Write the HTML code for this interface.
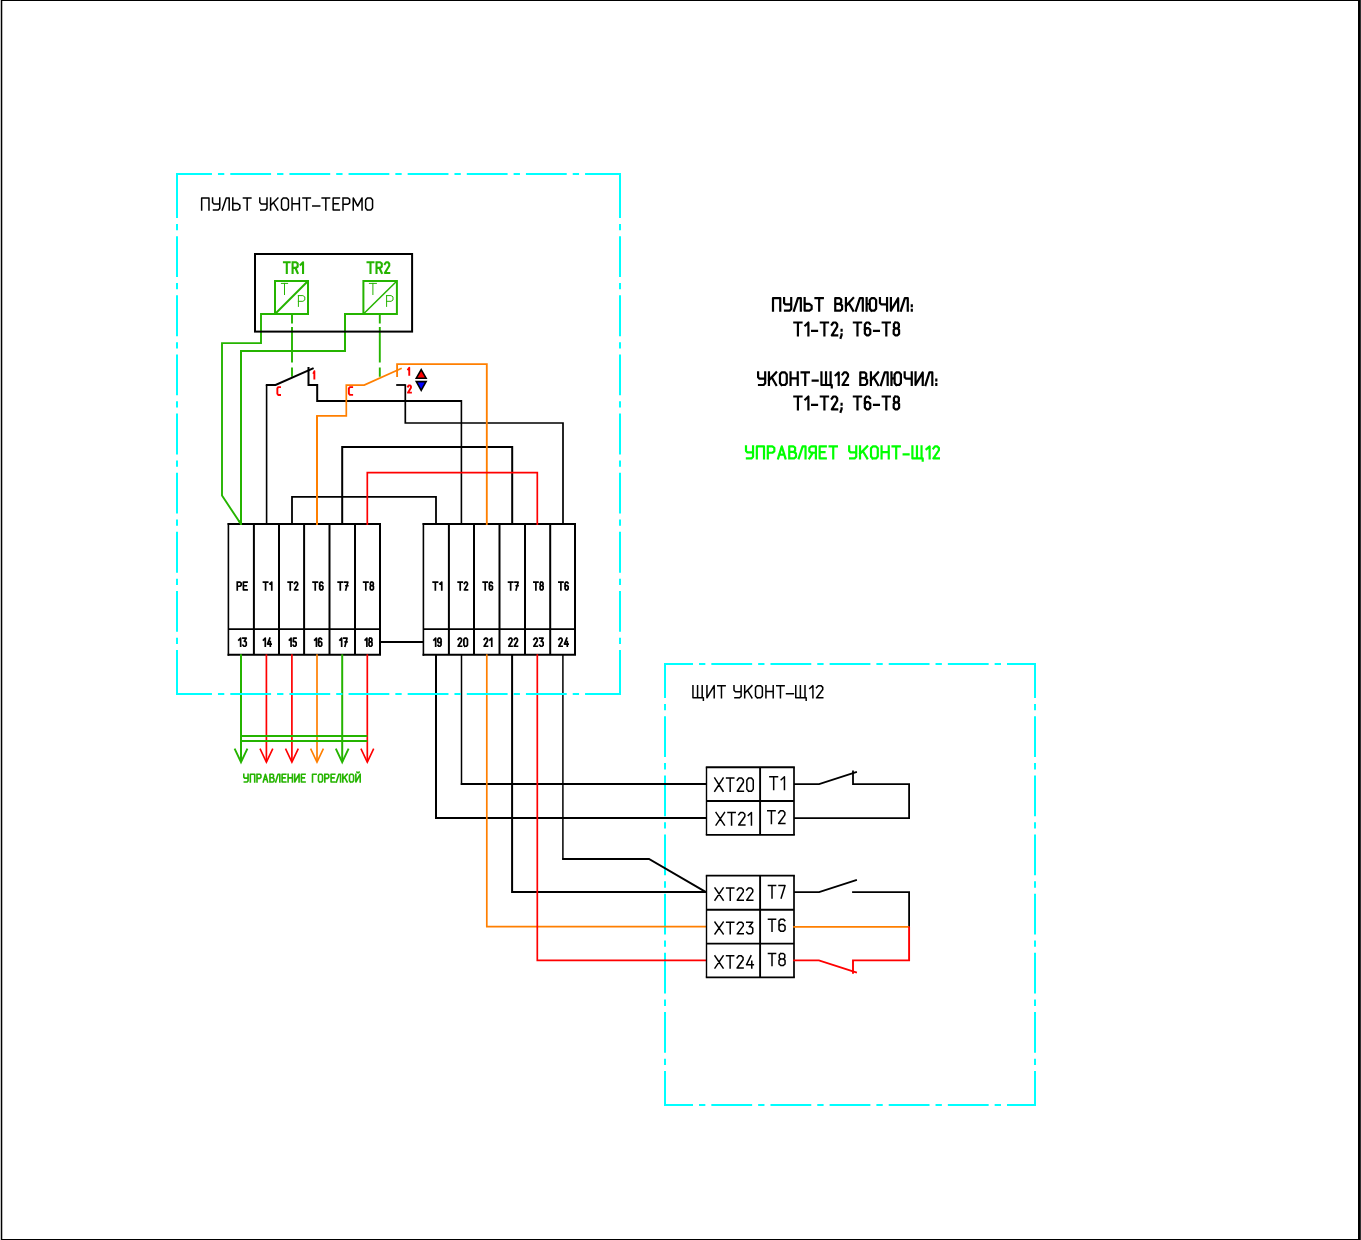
<!DOCTYPE html>
<html lang="ru">
<head>
<meta charset="utf-8">
<title>УКОНТ-ТЕРМО / УКОНТ-Щ12</title>
<style>
html,body{margin:0;padding:0;background:#fff;}
body{width:1361px;height:1240px;overflow:hidden;position:relative;font-family:"Liberation Sans",sans-serif;}
svg{position:absolute;left:0;top:0;display:block;}
svg text.t{font-family:"Liberation Sans",sans-serif;fill:#000;fill-opacity:0;stroke:none;}
.frame{position:absolute;background:#000;}
</style>
</head>
<body>
<div class="frame" style="left:0;top:0;width:1361px;height:1px"></div>
<div class="frame" style="left:0;top:1239px;width:1361px;height:1px"></div>
<div class="frame" style="left:0;top:0;width:1px;height:1240px;background:#c3c3c3"></div>
<div class="frame" style="left:1px;top:0;width:1px;height:1240px"></div>
<div class="frame" style="left:2px;top:1px;width:1px;height:1238px;background:#b9b9b9"></div>
<div class="frame" style="left:1358px;top:0;width:2px;height:1240px"></div>
<div class="frame" style="left:1360px;top:0;width:1px;height:1240px;background:#333"></div>
<svg width="1361" height="1240" viewBox="0 0 1361 1240">
<g fill="none">
<path d="M664 664 L1036 664" stroke="#00ffff" stroke-width="2" stroke-dasharray="29.01 6 6.33 6 40.8 6 6.33 6 40.8 6 6.33 6 40.8 6 6.33 6 40.8 6 6.33 6 40.8 6 6.33 6 30.01 100"/>
<path d="M664 1105 L1036 1105" stroke="#00ffff" stroke-width="2" stroke-dasharray="29.01 6 6.33 6 40.8 6 6.33 6 40.8 6 6.33 6 40.8 6 6.33 6 40.8 6 6.33 6 40.8 6 6.33 6 30.01 100"/>
<path d="M665 663 L665 1106" stroke="#00ffff" stroke-width="2" stroke-dasharray="34.95 6 6.33 6 40.8 6 6.33 6 40.8 6 6.33 6 40.8 6 6.33 6 40.8 6 6.33 6 40.8 6 6.33 6 40.8 6 6.33 6 35.95 100"/>
<path d="M1035 663 L1035 1106" stroke="#00ffff" stroke-width="2" stroke-dasharray="34.95 6 6.33 6 40.8 6 6.33 6 40.8 6 6.33 6 40.8 6 6.33 6 40.8 6 6.33 6 40.8 6 6.33 6 40.8 6 6.33 6 35.95 100"/>
<path d="M275 314 L261 314 L261 343.1 L222 343.1 L222 495.5 L241.2 524.6" stroke="#25b400" stroke-width="1.9"/>
<path d="M363.4 314 L345 314 L345 351 L241 351 L241 525" stroke="#25b400" stroke-width="2"/>
<rect x="275" y="281" width="33" height="33" stroke="#25b400" stroke-width="2"/>
<path d="M275 314 L308 281" stroke="#25b400" stroke-width="2"/>
<rect x="363.4" y="281" width="33.5" height="33" stroke="#25b400" stroke-width="2"/>
<path d="M363.4 314 L396.9 281" stroke="#25b400" stroke-width="1.5"/>
<path d="M292 314V376.7" stroke="#25b400" stroke-width="1.9" stroke-dasharray="9.5 3.4 35.7 5 9.4 50"/>
<path d="M379.8 314V376.7" stroke="#25b400" stroke-width="1.9" stroke-dasharray="9.5 3.4 35.7 5 9.4 50"/>
<rect x="255" y="254" width="157.1" height="77.6" stroke="#000" stroke-width="2"/>
<path d="M266.6 524 L266.6 385" stroke="#000" stroke-width="1.6"/>
<path d="M265.8 385 L275.6 385 L313.6 368.1" stroke="#000" stroke-width="2"/>
<path d="M308.5 367 L308.5 385 L317.2 385 L317.2 401 L461.4 401" stroke="#000" stroke-width="2"/>
<path d="M461.4 400 L461.4 524" stroke="#000" stroke-width="1.6"/>
<path d="M396.2 385 L405.3 385" stroke="#000" stroke-width="1.8"/>
<path d="M405.3 384.2 L405.3 423 L563 423 L563 524" stroke="#000" stroke-width="1.7"/>
<path d="M342.2 524 L342.2 447 L512.2 447 L512.2 524" stroke="#000" stroke-width="2"/>
<path d="M292 524 L292 496.8 L436 496.8 L436 524" stroke="#000" stroke-width="1.8"/>
<path d="M228.4 655.8 L228.4 523" stroke="#000" stroke-width="1.6"/>
<path d="M227.6 524 L380 524 L380 654.8 L227.6 654.8" stroke="#000" stroke-width="2"/>
<path d="M253.9 524 L253.9 654.8" stroke="#000" stroke-width="2"/>
<path d="M279 524 L279 654.8" stroke="#000" stroke-width="2"/>
<path d="M304.1 524 L304.1 654.8" stroke="#000" stroke-width="2"/>
<path d="M329.5 524 L329.5 654.8" stroke="#000" stroke-width="2"/>
<path d="M355 524 L355 654.8" stroke="#000" stroke-width="2"/>
<path d="M228.5 629.2 L380 629.2" stroke="#000" stroke-width="1.7"/>
<path d="M423.4 655.8 L423.4 523" stroke="#000" stroke-width="1.6"/>
<path d="M422.6 524 L575 524 L575 654.8 L422.6 654.8" stroke="#000" stroke-width="2"/>
<path d="M448.9 524 L448.9 654.8" stroke="#000" stroke-width="2"/>
<path d="M474 524 L474 654.8" stroke="#000" stroke-width="2"/>
<path d="M499.5 524 L499.5 654.8" stroke="#000" stroke-width="2"/>
<path d="M525 524 L525 654.8" stroke="#000" stroke-width="2"/>
<path d="M550.2 524 L550.2 654.8" stroke="#000" stroke-width="2"/>
<path d="M423.5 629.2 L575 629.2" stroke="#000" stroke-width="1.7"/>
<path d="M380 642 L423.5 642" stroke="#000" stroke-width="2"/>
<path d="M238.6 520.6 L241.2 524.6" stroke="#25b400" stroke-width="1.9"/>
<path d="M241 520 L241 525" stroke="#25b400" stroke-width="2"/>
<path d="M317 525 L317 415.7" stroke="#ff7f00" stroke-width="2"/>
<path d="M316.1 415.8 L346.3 415.8 L346.3 385.1 L364.2 385.1 L401.7 368.2" stroke="#ff7f00" stroke-width="1.7"/>
<path d="M397.1 377 L397.1 364.1 L486.8 364.1 L486.8 525" stroke="#ff7f00" stroke-width="1.85"/>
<path d="M367.3 525 L367.3 472.6 L537.3 472.6 L537.3 525" stroke="#ff0000" stroke-width="1.7"/>
<path d="M421.2 369.6L426.1 378.2H416.3Z" fill="#ff0000" stroke="#000" stroke-width="1.6" stroke-linejoin="miter"/>
<path d="M421.2 390.4L426.1 381.6H416.3Z" fill="#0000ff" stroke="#000" stroke-width="1.6" stroke-linejoin="miter"/>
<path d="M241 654.3 L241 761.5" stroke="#25b400" stroke-width="2"/>
<path d="M234.6 748.7 L241 762.2 L247.4 748.7" stroke="#25b400" stroke-width="1.9" stroke-linejoin="miter"/>
<path d="M266.4 654.3 L266.4 761.5" stroke="#ff0000" stroke-width="1.7"/>
<path d="M260 748.7 L266.4 762.2 L272.8 748.7" stroke="#ff0000" stroke-width="1.6" stroke-linejoin="miter"/>
<path d="M291.9 654.3 L291.9 761.5" stroke="#ff0000" stroke-width="1.7"/>
<path d="M285.5 748.7 L291.9 762.2 L298.3 748.7" stroke="#ff0000" stroke-width="1.6" stroke-linejoin="miter"/>
<path d="M317 654.3 L317 761.5" stroke="#ff7f00" stroke-width="1.7"/>
<path d="M310.6 748.7 L317 762.2 L323.4 748.7" stroke="#ff7f00" stroke-width="1.6" stroke-linejoin="miter"/>
<path d="M342.2 654.3 L342.2 761.5" stroke="#25b400" stroke-width="2"/>
<path d="M335.8 748.7 L342.2 762.2 L348.6 748.7" stroke="#25b400" stroke-width="1.9" stroke-linejoin="miter"/>
<path d="M367.3 654.3 L367.3 761.5" stroke="#ff0000" stroke-width="1.7"/>
<path d="M360.9 748.7 L367.3 762.2 L373.7 748.7" stroke="#ff0000" stroke-width="1.6" stroke-linejoin="miter"/>
<path d="M241 736 L367.3 736" stroke="#25b400" stroke-width="2"/>
<path d="M241 741 L367.3 741" stroke="#25b400" stroke-width="2"/>
<path d="M436 654.8 L436 817.9 L706 817.9" stroke="#000" stroke-width="2"/>
<path d="M461.5 654.8 L461.5 785" stroke="#000" stroke-width="1.5"/>
<path d="M460.8 784 L706 784" stroke="#000" stroke-width="2"/>
<path d="M512.1 654.8 L512.1 892.1 L706 892.1" stroke="#000" stroke-width="2"/>
<path d="M562.9 654.8 L562.9 859.8" stroke="#000" stroke-width="1.5"/>
<path d="M562.2 859 L649 859 L706 892.1" stroke="#000" stroke-width="2"/>
<path d="M486.8 654.3 L486.8 926.6 L706 926.6" stroke="#ff7f00" stroke-width="1.7"/>
<path d="M537.3 654.3 L537.3 960.4 L706 960.4" stroke="#ff0000" stroke-width="1.7"/>
<path d="M706.5 834.9 L706.5 767.2" stroke="#000" stroke-width="1.4"/>
<path d="M794 834.9 L794 767.2" stroke="#000" stroke-width="1.7"/>
<path d="M705.8 767.2 L794.85 767.2" stroke="#000" stroke-width="1.9"/>
<path d="M705.8 834.9 L794.85 834.9" stroke="#000" stroke-width="1.8"/>
<path d="M760.1 767.2 L760.1 834.9" stroke="#000" stroke-width="1.9"/>
<path d="M706.5 801 L794 801" stroke="#000" stroke-width="1.9"/>
<path d="M706.5 977.4 L706.5 875.6" stroke="#000" stroke-width="1.4"/>
<path d="M794 977.4 L794 875.6" stroke="#000" stroke-width="1.7"/>
<path d="M705.8 875.6 L794.85 875.6" stroke="#000" stroke-width="1.9"/>
<path d="M705.8 977.4 L794.85 977.4" stroke="#000" stroke-width="1.8"/>
<path d="M760.1 875.6 L760.1 977.4" stroke="#000" stroke-width="1.9"/>
<path d="M706.5 909.7 L794 909.7" stroke="#000" stroke-width="1.9"/>
<path d="M706.5 943.6 L794 943.6" stroke="#000" stroke-width="1.9"/>
<path d="M794 784.1 L819.1 784.1 L856.9 771.9" stroke="#000" stroke-width="1.8"/>
<path d="M853 770.6 L853 784.1 L909.1 784.1 L909.1 818.1 L794 818.1" stroke="#000" stroke-width="1.8"/>
<path d="M794 892.2 L819.1 892.2 L856.9 879.9" stroke="#000" stroke-width="1.8"/>
<path d="M852.1 892.2 L909.1 892.2 L909.1 927" stroke="#000" stroke-width="1.8"/>
<path d="M793.2 926.8 L909.2 926.8" stroke="#ff7f00" stroke-width="1.7"/>
<path d="M909.1 926.5 L909.1 960.4 L853 960.4 L853 973.8" stroke="#ff0000" stroke-width="1.9"/>
<path d="M793.2 960.4 L818.9 960.4 L856.9 972.7" stroke="#ff0000" stroke-width="1.9"/>
<path d="M201.65 210.05L201.65 197.95L208.97 197.95L208.97 210.05 M212.56 197.95L212.56 202.55L214.03 204L219.75 204 M219.75 197.95L219.75 208.36L218.15 210.05L213.50 210.05 M222.28 210.05L226.27 197.95L229.20 197.95L229.20 210.05 M232.80 197.95L232.80 210.05L237.59 210.05L239.85 208.48L239.85 205.09L237.59 203.52L232.80 203.52 M243.44 197.95L250.90 197.95 M247.17 197.95L247.17 210.05 M259.81 197.95L259.81 202.55L261.28 204L267 204 M267 197.95L267 208.36L265.40 210.05L260.75 210.05 M270.60 210.05L270.60 197.95 M277.92 197.95L270.60 205.45 M273.39 202.55L277.92 210.05 M283.24 210.05L281.51 208.11L281.51 199.89L283.24 197.95L286.70 197.95L288.43 199.89L288.43 208.11L286.70 210.05L283.24 210.05 M292.02 210.05L292.02 197.95 M299.35 210.05L299.35 197.95 M292.02 203.64L299.35 203.64 M302.94 197.95L310.39 197.95 M306.67 197.95L306.67 210.05 M312.79 205.94L319.71 205.94 M322.11 197.95L329.56 197.95 M325.83 197.95L325.83 210.05 M339.41 197.95L333.15 197.95L333.15 210.05L339.41 210.05 M333.15 203.64L338.08 203.64 M343 210.05L343 197.95 M343 197.95L347.66 197.95L349.66 199.40L349.66 202.91L347.66 204.36L343 204.36 M353.25 210.05L353.25 197.95L357.64 206.18L362.04 197.95L362.04 210.05 M367.36 210.05L365.63 208.11L365.63 199.89L367.36 197.95L370.82 197.95L372.55 199.89L372.55 208.11L370.82 210.05L367.36 210.05" stroke="#000" stroke-width="1.5" stroke-linecap="square" stroke-linejoin="round"/>
<text x="200.9" y="210.8" font-size="18.7" textLength="172.4" lengthAdjust="spacingAndGlyphs" class="t">ПУЛЬТ УКОНТ-ТЕРМО</text>
<path d="M283.95 262.25L289.64 262.25 M286.79 262.25L286.79 272.95 M292.59 272.95L292.59 262.25 M292.59 262.25L296.14 262.25L297.67 263.53L297.67 266.64L296.14 267.92L292.59 267.92 M295.43 267.92L297.67 272.95 M300.61 264.71L303.05 262.25L303.05 272.95" stroke="#25b400" stroke-width="2.1" stroke-linecap="square" stroke-linejoin="round"/>
<text x="282.9" y="274" font-size="17.6" textLength="21.2" lengthAdjust="spacingAndGlyphs" class="t">TR1</text>
<path d="M367.55 262.25L373.45 262.25 M370.50 262.25L370.50 272.95 M376.50 272.95L376.50 262.25 M376.50 262.25L380.19 262.25L381.77 263.53L381.77 266.64L380.19 267.92L376.50 267.92 M379.45 267.92L381.77 272.95 M384.83 264.07L386.09 262.25L387.99 262.25L389.25 263.75L389.25 265.67L384.83 272.95L389.25 272.95" stroke="#25b400" stroke-width="2.1" stroke-linecap="square" stroke-linejoin="round"/>
<text x="366.5" y="274" font-size="17.6" textLength="23.8" lengthAdjust="spacingAndGlyphs" class="t">TR2</text>
<path d="M281.40 283.40L287.60 283.40 M284.50 283.40L284.50 294.50" stroke="#25b400" stroke-width="1" stroke-linecap="square" stroke-linejoin="round"/>
<text x="280.9" y="295" font-size="16.6" textLength="7.2" lengthAdjust="spacingAndGlyphs" class="t">T</text>
<path d="M298.40 306.40L298.40 295.60 M298.40 295.60L302.88 295.60L304.80 296.90L304.80 300.03L302.88 301.32L298.40 301.32" stroke="#25b400" stroke-width="1" stroke-linecap="square" stroke-linejoin="round"/>
<text x="297.9" y="306.9" font-size="16.2" textLength="7.4" lengthAdjust="spacingAndGlyphs" class="t">P</text>
<path d="M369.40 283.40L376.40 283.40 M372.90 283.40L372.90 294.50" stroke="#25b400" stroke-width="1" stroke-linecap="square" stroke-linejoin="round"/>
<text x="368.9" y="295" font-size="16.6" textLength="8" lengthAdjust="spacingAndGlyphs" class="t">T</text>
<path d="M386.60 306.40L386.60 295.60 M386.60 295.60L391.08 295.60L393 296.90L393 300.03L391.08 301.32L386.60 301.32" stroke="#25b400" stroke-width="1" stroke-linecap="square" stroke-linejoin="round"/>
<text x="386.1" y="306.9" font-size="16.2" textLength="7.4" lengthAdjust="spacingAndGlyphs" class="t">P</text>
<path d="M280.05 387.15L278.23 387.15L277.35 388.41L277.35 393.79L278.23 395.05L280.05 395.05" stroke="#ff0000" stroke-width="1.9" stroke-linecap="square" stroke-linejoin="round"/>
<text x="276.4" y="396" font-size="13.4" textLength="4.6" lengthAdjust="spacingAndGlyphs" class="t">C</text>
<path d="M313.65 372.95L314.35 371.25L314.35 378.65" stroke="#ff0000" stroke-width="1.9" stroke-linecap="square" stroke-linejoin="round"/>
<text x="312.7" y="379.6" font-size="12.8" textLength="2.6" lengthAdjust="spacingAndGlyphs" class="t">1</text>
<path d="M352.15 387.15L349.93 387.15L348.85 388.38L348.85 393.62L349.93 394.85L352.15 394.85" stroke="#ff0000" stroke-width="1.9" stroke-linecap="square" stroke-linejoin="round"/>
<text x="347.9" y="395.8" font-size="13.2" textLength="5.2" lengthAdjust="spacingAndGlyphs" class="t">C</text>
<path d="M408.15 369.38L409.25 367.75L409.25 374.85" stroke="#ff0000" stroke-width="1.9" stroke-linecap="square" stroke-linejoin="round"/>
<text x="407.2" y="375.8" font-size="12.3" textLength="3" lengthAdjust="spacingAndGlyphs" class="t">1</text>
<path d="M407.95 386.59L408.81 385.35L410.09 385.35L410.95 386.37L410.95 387.69L407.95 392.65L410.95 392.65" stroke="#ff0000" stroke-width="1.9" stroke-linecap="square" stroke-linejoin="round"/>
<text x="407" y="393.6" font-size="12.6" textLength="4.9" lengthAdjust="spacingAndGlyphs" class="t">2</text>
<path d="M237.25 589.85L237.25 582.15 M237.25 582.15L239.97 582.15L241.14 583.07L241.14 585.31L239.97 586.23L237.25 586.23 M247.05 582.15L243.39 582.15L243.39 589.85L247.05 589.85 M243.39 585.77L246.27 585.77" stroke="#000" stroke-width="1.7" stroke-linecap="square" stroke-linejoin="round"/>
<text x="236.4" y="590.7" font-size="12.9" textLength="11.5" lengthAdjust="spacingAndGlyphs" class="t">PE</text>
<path d="M263.45 582.15L267.71 582.15 M265.58 582.15L265.58 589.85 M269.92 583.92L271.75 582.15L271.75 589.85" stroke="#000" stroke-width="1.7" stroke-linecap="square" stroke-linejoin="round"/>
<text x="262.6" y="590.7" font-size="12.9" textLength="10" lengthAdjust="spacingAndGlyphs" class="t">T1</text>
<path d="M288.15 582.15L292.34 582.15 M290.24 582.15L290.24 589.85 M294.51 583.46L295.41 582.15L296.75 582.15L297.65 583.23L297.65 584.61L294.51 589.85L297.65 589.85" stroke="#000" stroke-width="1.7" stroke-linecap="square" stroke-linejoin="round"/>
<text x="287.3" y="590.7" font-size="12.9" textLength="11.2" lengthAdjust="spacingAndGlyphs" class="t">T2</text>
<path d="M313.05 582.15L317.42 582.15 M315.23 582.15L315.23 589.85 M322.79 583.07L322.01 582.15L320.69 582.15L319.68 583.30L319.68 588.77L320.69 589.85L322.01 589.85L322.95 588.85L322.95 586.54L322.01 585.54L320.69 585.54L319.68 586.54" stroke="#000" stroke-width="1.7" stroke-linecap="square" stroke-linejoin="round"/>
<text x="312.2" y="590.7" font-size="12.9" textLength="11.6" lengthAdjust="spacingAndGlyphs" class="t">T6</text>
<path d="M338.15 582.15L342.43 582.15 M340.29 582.15L340.29 589.85 M344.64 582.15L347.85 582.15L345.79 589.85 M345.94 585.77L347.77 585.77" stroke="#000" stroke-width="1.7" stroke-linecap="square" stroke-linejoin="round"/>
<text x="337.3" y="590.7" font-size="12.9" textLength="11.4" lengthAdjust="spacingAndGlyphs" class="t">T7</text>
<path d="M363.65 582.15L367.97 582.15 M365.81 582.15L365.81 589.85 M371.14 582.15L370.36 583L370.36 584.84L371.14 585.69L372.52 585.69L373.30 584.84L373.30 583L372.52 582.15L371.14 582.15 M371.14 585.69L370.21 586.62L370.21 588.85L371.14 589.85L372.52 589.85L373.45 588.85L373.45 586.62L372.52 585.69" stroke="#000" stroke-width="1.7" stroke-linecap="square" stroke-linejoin="round"/>
<text x="362.8" y="590.7" font-size="12.9" textLength="11.5" lengthAdjust="spacingAndGlyphs" class="t">T8</text>
<path d="M433.15 582.15L437.57 582.15 M435.36 582.15L435.36 589.85 M439.86 583.92L441.75 582.15L441.75 589.85" stroke="#000" stroke-width="1.7" stroke-linecap="square" stroke-linejoin="round"/>
<text x="432.3" y="590.7" font-size="12.9" textLength="10.3" lengthAdjust="spacingAndGlyphs" class="t">T1</text>
<path d="M458.15 582.15L462.25 582.15 M460.20 582.15L460.20 589.85 M464.37 583.46L465.25 582.15L466.57 582.15L467.45 583.23L467.45 584.61L464.37 589.85L467.45 589.85" stroke="#000" stroke-width="1.7" stroke-linecap="square" stroke-linejoin="round"/>
<text x="457.3" y="590.7" font-size="12.9" textLength="11" lengthAdjust="spacingAndGlyphs" class="t">T2</text>
<path d="M483.15 582.15L487.25 582.15 M485.20 582.15L485.20 589.85 M492.30 583.07L491.57 582.15L490.33 582.15L489.37 583.30L489.37 588.77L490.33 589.85L491.57 589.85L492.45 588.85L492.45 586.54L491.57 585.54L490.33 585.54L489.37 586.54" stroke="#000" stroke-width="1.7" stroke-linecap="square" stroke-linejoin="round"/>
<text x="482.3" y="590.7" font-size="12.9" textLength="11" lengthAdjust="spacingAndGlyphs" class="t">T6</text>
<path d="M508.55 582.15L512.78 582.15 M510.67 582.15L510.67 589.85 M514.98 582.15L518.15 582.15L516.11 589.85 M516.26 585.77L518.07 585.77" stroke="#000" stroke-width="1.7" stroke-linecap="square" stroke-linejoin="round"/>
<text x="507.7" y="590.7" font-size="12.9" textLength="11.3" lengthAdjust="spacingAndGlyphs" class="t">T7</text>
<path d="M533.85 582.15L537.95 582.15 M535.90 582.15L535.90 589.85 M540.95 582.15L540.22 583L540.22 584.84L540.95 585.69L542.27 585.69L543 584.84L543 583L542.27 582.15L540.95 582.15 M540.95 585.69L540.07 586.62L540.07 588.85L540.95 589.85L542.27 589.85L543.15 588.85L543.15 586.62L542.27 585.69" stroke="#000" stroke-width="1.7" stroke-linecap="square" stroke-linejoin="round"/>
<text x="533" y="590.7" font-size="12.9" textLength="11" lengthAdjust="spacingAndGlyphs" class="t">T8</text>
<path d="M558.85 582.15L562.95 582.15 M560.90 582.15L560.90 589.85 M568 583.07L567.27 582.15L566.03 582.15L565.07 583.30L565.07 588.77L566.03 589.85L567.27 589.85L568.15 588.85L568.15 586.54L567.27 585.54L566.03 585.54L565.07 586.54" stroke="#000" stroke-width="1.7" stroke-linecap="square" stroke-linejoin="round"/>
<text x="558" y="590.7" font-size="12.9" textLength="11" lengthAdjust="spacingAndGlyphs" class="t">T6</text>
<path d="M238.75 640.01L240.64 638.15L240.64 646.25 M242.93 638.15L246.25 638.15L244.28 641.31L245.30 641.31L246.25 642.28L246.25 645.20L245.30 646.25L243.88 646.25L242.93 645.12" stroke="#000" stroke-width="1.7" stroke-linecap="square" stroke-linejoin="round"/>
<text x="237.9" y="647.1" font-size="13.4" textLength="9.2" lengthAdjust="spacingAndGlyphs" class="t">13</text>
<path d="M263.45 640.01L265.28 638.15L265.28 646.25 M269.85 638.15L267.49 644.06L271.15 644.06 M270.31 641.71L270.31 646.25" stroke="#000" stroke-width="1.7" stroke-linecap="square" stroke-linejoin="round"/>
<text x="262.6" y="647.1" font-size="13.4" textLength="9.4" lengthAdjust="spacingAndGlyphs" class="t">14</text>
<path d="M289.35 640.01L291.07 638.15L291.07 646.25 M296.01 638.15L293.50 638.15L293.29 641.63L295.29 641.63L296.15 642.61L296.15 645.20L295.29 646.25L294 646.25L293.14 645.20" stroke="#000" stroke-width="1.7" stroke-linecap="square" stroke-linejoin="round"/>
<text x="288.5" y="647.1" font-size="13.4" textLength="8.5" lengthAdjust="spacingAndGlyphs" class="t">15</text>
<path d="M314.65 640.01L316.44 638.15L316.44 646.25 M321.60 639.12L320.85 638.15L319.58 638.15L318.61 639.36L318.61 645.12L319.58 646.25L320.85 646.25L321.75 645.20L321.75 642.77L320.85 641.71L319.58 641.71L318.61 642.77" stroke="#000" stroke-width="1.7" stroke-linecap="square" stroke-linejoin="round"/>
<text x="313.8" y="647.1" font-size="13.4" textLength="8.8" lengthAdjust="spacingAndGlyphs" class="t">16</text>
<path d="M339.85 640.01L341.67 638.15L341.67 646.25 M343.87 638.15L347.05 638.15L345 646.25 M345.16 641.96L346.97 641.96" stroke="#000" stroke-width="1.7" stroke-linecap="square" stroke-linejoin="round"/>
<text x="339" y="647.1" font-size="13.4" textLength="8.9" lengthAdjust="spacingAndGlyphs" class="t">17</text>
<path d="M365.15 640.01L366.89 638.15L366.89 646.25 M369.87 638.15L369.14 639.04L369.14 640.98L369.87 641.88L371.18 641.88L371.90 640.98L371.90 639.04L371.18 638.15L369.87 638.15 M369.87 641.88L369 642.85L369 645.20L369.87 646.25L371.18 646.25L372.05 645.20L372.05 642.85L371.18 641.88" stroke="#000" stroke-width="1.7" stroke-linecap="square" stroke-linejoin="round"/>
<text x="364.3" y="647.1" font-size="13.4" textLength="8.6" lengthAdjust="spacingAndGlyphs" class="t">18</text>
<path d="M433.85 640.01L435.67 638.15L435.67 646.25 M438.02 645.28L438.78 646.25L440.06 646.25L441.05 645.03L441.05 639.28L440.06 638.15L438.78 638.15L437.87 639.20L437.87 641.63L438.78 642.69L440.06 642.69L441.05 641.63" stroke="#000" stroke-width="1.7" stroke-linecap="square" stroke-linejoin="round"/>
<text x="433" y="647.1" font-size="13.4" textLength="8.9" lengthAdjust="spacingAndGlyphs" class="t">19</text>
<path d="M458.15 639.53L459.12 638.15L460.58 638.15L461.55 639.28L461.55 640.74L458.15 646.25L461.55 646.25 M464.86 646.25L463.89 644.95L463.89 639.45L464.86 638.15L466.48 638.15L467.45 639.45L467.45 644.95L466.48 646.25L464.86 646.25" stroke="#000" stroke-width="1.7" stroke-linecap="square" stroke-linejoin="round"/>
<text x="457.3" y="647.1" font-size="13.4" textLength="11" lengthAdjust="spacingAndGlyphs" class="t">20</text>
<path d="M484.15 639.53L485.11 638.15L486.55 638.15L487.51 639.28L487.51 640.74L484.15 646.25L487.51 646.25 M489.83 640.01L491.75 638.15L491.75 646.25" stroke="#000" stroke-width="1.7" stroke-linecap="square" stroke-linejoin="round"/>
<text x="483.3" y="647.1" font-size="13.4" textLength="9.3" lengthAdjust="spacingAndGlyphs" class="t">21</text>
<path d="M508.85 639.53L509.76 638.15L511.13 638.15L512.05 639.28L512.05 640.74L508.85 646.25L512.05 646.25 M514.25 639.53L515.17 638.15L516.54 638.15L517.45 639.28L517.45 640.74L514.25 646.25L517.45 646.25" stroke="#000" stroke-width="1.7" stroke-linecap="square" stroke-linejoin="round"/>
<text x="508" y="647.1" font-size="13.4" textLength="10.3" lengthAdjust="spacingAndGlyphs" class="t">22</text>
<path d="M533.85 639.53L534.84 638.15L536.32 638.15L537.31 639.28L537.31 640.74L533.85 646.25L537.31 646.25 M539.69 638.15L543.15 638.15L541.09 641.31L542.16 641.31L543.15 642.28L543.15 645.20L542.16 646.25L540.68 646.25L539.69 645.12" stroke="#000" stroke-width="1.7" stroke-linecap="square" stroke-linejoin="round"/>
<text x="533" y="647.1" font-size="13.4" textLength="11" lengthAdjust="spacingAndGlyphs" class="t">23</text>
<path d="M558.85 639.53L559.79 638.15L561.19 638.15L562.13 639.28L562.13 640.74L558.85 646.25L562.13 646.25 M566.82 638.15L564.40 644.06L568.15 644.06 M567.29 641.71L567.29 646.25" stroke="#000" stroke-width="1.7" stroke-linecap="square" stroke-linejoin="round"/>
<text x="558" y="647.1" font-size="13.4" textLength="11" lengthAdjust="spacingAndGlyphs" class="t">24</text>
<path d="M243.80 774.20L243.80 777.16L244.67 778.10L248.06 778.10 M248.06 774.20L248.06 780.91L247.12 782L244.35 782 M250.35 782L250.35 774.20L254.70 774.20L254.70 782 M256.99 782L256.99 774.20 M256.99 774.20L259.75 774.20L260.94 775.14L260.94 777.40L259.75 778.33L256.99 778.33 M263.23 782L265.44 774.20L267.65 782 M263.98 779.50L266.90 779.50 M269.94 782L269.94 774.20L272.47 774.20L273.49 774.98L273.49 777.01L272.62 777.79L269.94 777.79 M272.62 777.79L274.05 778.80L274.05 780.99L272.94 782L269.94 782 M275.70 782L278.07 774.20L279.81 774.20L279.81 782 M285.81 774.20L282.10 774.20L282.10 782L285.81 782 M282.10 777.87L285.02 777.87 M288.10 782L288.10 774.20 M292.44 782L292.44 774.20 M288.10 777.87L292.44 777.87 M294.73 774.20L294.73 782L299.08 774.20L299.08 782 M305.08 774.20L301.37 774.20L301.37 782L305.08 782 M301.37 777.87L304.29 777.87 M312.50 782L312.50 774.20L316.14 774.20 M319.45 782L318.43 780.75L318.43 775.45L319.45 774.20L321.51 774.20L322.53 775.45L322.53 780.75L321.51 782L319.45 782 M324.82 782L324.82 774.20 M324.82 774.20L327.59 774.20L328.77 775.14L328.77 777.40L327.59 778.33L324.82 778.33 M334.77 774.20L331.06 774.20L331.06 782L334.77 782 M331.06 777.87L333.98 777.87 M336.43 782L338.80 774.20L340.54 774.20L340.54 782 M342.83 782L342.83 774.20 M347.17 774.20L342.83 779.04 M344.49 777.16L347.17 782 M350.49 782L349.46 780.75L349.46 775.45L350.49 774.20L352.54 774.20L353.57 775.45L353.57 780.75L352.54 782L350.49 782 M355.86 774.20L355.86 782L360.20 774.20L360.20 782 M356.96 772.17L358.03 772.95L359.09 772.17" stroke="#25b400" stroke-width="1.6" stroke-linecap="square" stroke-linejoin="round"/>
<text x="243" y="782.8" font-size="12.9" textLength="118" lengthAdjust="spacingAndGlyphs" class="t">УПРАВЛЕНИЕ ГОРЕЛКОЙ</text>
<path d="M773 310.70L773 298.10L780.25 298.10L780.25 310.70 M784.08 298.10L784.08 302.89L785.53 304.40L791.20 304.40 M791.20 298.10L791.20 308.94L789.62 310.70L785 310.70 M793.97 310.70L797.92 298.10L800.83 298.10L800.83 310.70 M804.65 298.10L804.65 310.70L809.40 310.70L811.64 309.06L811.64 305.53L809.40 303.90L804.65 303.90 M815.46 298.10L822.85 298.10 M819.16 298.10L819.16 310.70 M835.25 310.70L835.25 298.10L839.47 298.10L841.18 299.36L841.18 302.64L839.73 303.90L835.25 303.90 M839.73 303.90L842.10 305.53L842.10 309.06L840.26 310.70L835.25 310.70 M845.93 310.70L845.93 298.10 M853.18 298.10L845.93 305.91 M848.70 302.89L853.18 310.70 M855.95 310.70L859.91 298.10L862.81 298.10L862.81 310.70 M866.63 310.70L866.63 298.10 M866.63 304.02L869.80 304.02 M871.51 310.70L869.80 308.68L869.80 300.12L871.51 298.10L874.41 298.10L876.13 300.12L876.13 308.68L874.41 310.70L871.51 310.70 M879.95 298.10L879.95 302.89L881.40 304.40L887.07 304.40 M887.07 298.10L887.07 310.70 M890.90 298.10L890.90 310.70L898.15 298.10L898.15 310.70 M900.92 310.70L904.88 298.10L907.78 298.10L907.78 310.70 M911.80 310.57L911.80 309.82 M911.80 306.16L911.80 305.41" stroke="#000" stroke-width="2.2" stroke-linecap="square" stroke-linejoin="round"/>
<text x="771.9" y="311.8" font-size="20.3" textLength="141" lengthAdjust="spacingAndGlyphs" class="t">ПУЛЬТ ВКЛЮЧИЛ:</text>
<path d="M794.30 322.50L801.54 322.50 M797.92 322.50L797.92 335.30 M805.28 325.44L808.39 322.50L808.39 335.30 M812.13 330.95L817.04 330.95 M820.79 322.50L828.03 322.50 M824.41 322.50L824.41 335.30 M831.77 324.68L833.33 322.50L835.65 322.50L837.20 324.29L837.20 326.60L831.77 335.30L837.20 335.30 M841.60 330.69L841.60 329.92 M841.60 334.28L841.60 335.17L840.69 337.73 M853.87 322.50L861.11 322.50 M857.49 322.50L857.49 335.30 M870.02 324.04L868.73 322.50L866.54 322.50L864.86 324.42L864.86 333.51L866.54 335.30L868.73 335.30L870.28 333.64L870.28 329.80L868.73 328.13L866.54 328.13L864.86 329.80 M874.03 330.95L878.94 330.95 M882.69 322.50L889.93 322.50 M886.31 322.50L886.31 335.30 M895.22 322.50L893.93 323.91L893.93 326.98L895.22 328.39L897.55 328.39L898.84 326.98L898.84 323.91L897.55 322.50L895.22 322.50 M895.22 328.39L893.67 329.92L893.67 333.64L895.22 335.30L897.55 335.30L899.10 333.64L899.10 329.92L897.55 328.39" stroke="#000" stroke-width="2.2" stroke-linecap="square" stroke-linejoin="round"/>
<text x="793.2" y="336.4" font-size="20.6" textLength="107" lengthAdjust="spacingAndGlyphs" class="t">Т1-Т2; Т6-Т8</text>
<path d="M758.10 372.40L758.10 377.19L759.54 378.70L765.17 378.70 M765.17 372.40L765.17 383.24L763.60 385L759.02 385 M768.96 385L768.96 372.40 M776.16 372.40L768.96 380.21 M771.71 377.19L776.16 385 M781.66 385L779.96 382.98L779.96 374.42L781.66 372.40L785.06 372.40L786.76 374.42L786.76 382.98L785.06 385L781.66 385 M790.56 385L790.56 372.40 M797.76 385L797.76 372.40 M790.56 378.32L797.76 378.32 M801.55 372.40L808.88 372.40 M805.22 372.40L805.22 385 M812.68 380.72L817.65 380.72 M821.45 372.40L821.45 385L830.61 385L830.61 372.40 M826.03 372.40L826.03 385 M830.61 385L831.79 385L831.79 387.39 M835.58 375.30L838.73 372.40L838.73 385 M842.52 374.54L844.09 372.40L846.45 372.40L848.02 374.16L848.02 376.43L842.52 385L848.02 385 M860.32 385L860.32 372.40L864.51 372.40L866.21 373.66L866.21 376.94L864.77 378.20L860.32 378.20 M864.77 378.20L867.13 379.83L867.13 383.36L865.29 385L860.32 385 M870.92 385L870.92 372.40 M878.12 372.40L870.92 380.21 M873.67 377.19L878.12 385 M880.87 385L884.80 372.40L887.68 372.40L887.68 385 M891.47 385L891.47 372.40 M891.47 378.32L894.61 378.32 M896.31 385L894.61 382.98L894.61 374.42L896.31 372.40L899.19 372.40L900.90 374.42L900.90 382.98L899.19 385L896.31 385 M904.69 372.40L904.69 377.19L906.13 378.70L911.76 378.70 M911.76 372.40L911.76 385 M915.55 372.40L915.55 385L922.75 372.40L922.75 385 M925.50 385L929.43 372.40L932.31 372.40L932.31 385 M936.30 384.87L936.30 384.12 M936.30 380.46L936.30 379.71" stroke="#000" stroke-width="2.2" stroke-linecap="square" stroke-linejoin="round"/>
<text x="757" y="386.1" font-size="20.3" textLength="180.4" lengthAdjust="spacingAndGlyphs" class="t">УКОНТ-Щ12 ВКЛЮЧИЛ:</text>
<path d="M794.30 396.50L801.54 396.50 M797.92 396.50L797.92 409.30 M805.28 399.44L808.39 396.50L808.39 409.30 M812.13 404.95L817.04 404.95 M820.79 396.50L828.03 396.50 M824.41 396.50L824.41 409.30 M831.77 398.68L833.33 396.50L835.65 396.50L837.20 398.29L837.20 400.60L831.77 409.30L837.20 409.30 M841.60 404.69L841.60 403.92 M841.60 408.28L841.60 409.17L840.69 411.73 M853.87 396.50L861.11 396.50 M857.49 396.50L857.49 409.30 M870.02 398.04L868.73 396.50L866.54 396.50L864.86 398.42L864.86 407.51L866.54 409.30L868.73 409.30L870.28 407.64L870.28 403.80L868.73 402.13L866.54 402.13L864.86 403.80 M874.03 404.95L878.94 404.95 M882.69 396.50L889.93 396.50 M886.31 396.50L886.31 409.30 M895.22 396.50L893.93 397.91L893.93 400.98L895.22 402.39L897.55 402.39L898.84 400.98L898.84 397.91L897.55 396.50L895.22 396.50 M895.22 402.39L893.67 403.92L893.67 407.64L895.22 409.30L897.55 409.30L899.10 407.64L899.10 403.92L897.55 402.39" stroke="#000" stroke-width="2.2" stroke-linecap="square" stroke-linejoin="round"/>
<text x="793.2" y="410.4" font-size="20.6" textLength="107" lengthAdjust="spacingAndGlyphs" class="t">Т1-Т2; Т6-Т8</text>
<path d="M746 446.40L746 450.96L747.44 452.40L753.05 452.40 M753.05 446.40L753.05 456.72L751.49 458.40L746.91 458.40 M756.84 458.40L756.84 446.40L764.02 446.40L764.02 458.40 M767.81 458.40L767.81 446.40 M767.81 446.40L772.38 446.40L774.34 447.84L774.34 451.32L772.38 452.76L767.81 452.76 M778.13 458.40L781.79 446.40L785.44 458.40 M779.37 454.56L784.20 454.56 M789.23 458.40L789.23 446.40L793.41 446.40L795.11 447.60L795.11 450.72L793.67 451.92L789.23 451.92 M793.67 451.92L796.02 453.48L796.02 456.84L794.19 458.40L789.23 458.40 M798.76 458.40L802.68 446.40L805.55 446.40L805.55 458.40 M815.87 458.40L815.87 446.40L811.30 446.40L809.34 447.84L809.34 451.32L811.30 452.76L815.87 452.76 M812.87 452.76L809.34 458.40 M825.80 446.40L819.66 446.40L819.66 458.40L825.80 458.40 M819.66 452.04L824.49 452.04 M829.59 446.40L836.90 446.40 M833.24 446.40L833.24 458.40 M849.18 446.40L849.18 450.96L850.61 452.40L856.23 452.40 M856.23 446.40L856.23 456.72L854.66 458.40L850.09 458.40 M860.02 458.40L860.02 446.40 M867.20 446.40L860.02 453.84 M862.76 450.96L867.20 458.40 M872.68 458.40L870.99 456.48L870.99 448.32L872.68 446.40L876.08 446.40L877.78 448.32L877.78 456.48L876.08 458.40L872.68 458.40 M881.57 458.40L881.57 446.40 M888.75 458.40L888.75 446.40 M881.57 452.04L888.75 452.04 M892.54 446.40L899.85 446.40 M896.19 446.40L896.19 458.40 M903.64 454.32L908.60 454.32 M912.39 446.40L912.39 458.40L921.53 458.40L921.53 446.40 M916.96 446.40L916.96 458.40 M921.53 458.40L922.71 458.40L922.71 460.68 M926.49 449.16L929.63 446.40L929.63 458.40 M933.41 448.44L934.98 446.40L937.33 446.40L938.90 448.08L938.90 450.24L933.41 458.40L938.90 458.40" stroke="#00ff00" stroke-width="2.2" stroke-linecap="square" stroke-linejoin="round"/>
<text x="744.9" y="459.5" font-size="19.5" textLength="195.1" lengthAdjust="spacingAndGlyphs" class="t">УПРАВЛЯЕТ УКОНТ-Щ12</text>
<path d="M692.95 685.65L692.95 697.85L702.19 697.85L702.19 685.65 M697.57 685.65L697.57 697.85 M702.19 697.85L703.38 697.85L703.38 700.17 M706.94 685.65L706.94 697.85L714.20 685.65L714.20 697.85 M717.76 685.65L725.15 685.65 M721.46 685.65L721.46 697.85 M734 685.65L734 690.29L735.45 691.75L741.12 691.75 M741.12 685.65L741.12 696.14L739.54 697.85L734.92 697.85 M744.69 697.85L744.69 685.65 M751.95 685.65L744.69 693.21 M747.46 690.29L751.95 697.85 M757.23 697.85L755.51 695.90L755.51 687.60L757.23 685.65L760.66 685.65L762.37 687.60L762.37 695.90L760.66 697.85L757.23 697.85 M765.94 697.85L765.94 685.65 M773.20 697.85L773.20 685.65 M765.94 691.38L773.20 691.38 M776.76 685.65L784.15 685.65 M780.45 685.65L780.45 697.85 M786.53 693.70L793.39 693.70 M795.76 685.65L795.76 697.85L805 697.85L805 685.65 M800.38 685.65L800.38 697.85 M805 697.85L806.19 697.85L806.19 700.17 M809.75 688.46L812.92 685.65L812.92 697.85 M816.49 687.72L818.28 685.65L820.96 685.65L822.75 687.36L822.75 689.55L816.49 697.85L822.75 697.85" stroke="#000" stroke-width="1.5" stroke-linecap="square" stroke-linejoin="round"/>
<text x="692.2" y="698.6" font-size="18.8" textLength="131.3" lengthAdjust="spacingAndGlyphs" class="t">ЩИТ УКОНТ-Щ12</text>
<path d="M714.75 791.25L723.11 778.05 M714.75 778.05L723.11 791.25 M726.59 778.05L733.80 778.05 M730.19 778.05L730.19 791.25 M737.27 780.29L739.01 778.05L741.63 778.05L743.38 779.90L743.38 782.27L737.27 791.25L743.38 791.25 M748.60 791.25L746.85 789.14L746.85 780.16L748.60 778.05L751.51 778.05L753.25 780.16L753.25 789.14L751.51 791.25L748.60 791.25" stroke="#000" stroke-width="1.5" stroke-linecap="square" stroke-linejoin="round"/>
<text x="714" y="792" font-size="20.2" textLength="40" lengthAdjust="spacingAndGlyphs" class="t">XT20</text>
<path d="M716.05 825.05L724.46 812.55 M716.05 812.55L724.46 825.05 M727.96 812.55L735.21 812.55 M731.58 812.55L731.58 825.05 M738.70 814.67L740.46 812.55L743.09 812.55L744.85 814.30L744.85 816.55L738.70 825.05L744.85 825.05 M748.34 815.42L751.45 812.55L751.45 825.05" stroke="#000" stroke-width="1.5" stroke-linecap="square" stroke-linejoin="round"/>
<text x="715.3" y="825.8" font-size="19.2" textLength="36.9" lengthAdjust="spacingAndGlyphs" class="t">XT21</text>
<path d="M714.95 900.15L723.22 887.95 M714.95 887.95L723.22 900.15 M726.66 887.95L733.79 887.95 M730.23 887.95L730.23 900.15 M737.23 890.02L738.96 887.95L741.54 887.95L743.27 889.66L743.27 891.85L737.23 900.15L743.27 900.15 M746.71 890.02L748.43 887.95L751.02 887.95L752.75 889.66L752.75 891.85L746.71 900.15L752.75 900.15" stroke="#000" stroke-width="1.5" stroke-linecap="square" stroke-linejoin="round"/>
<text x="714.2" y="900.9" font-size="18.8" textLength="39.3" lengthAdjust="spacingAndGlyphs" class="t">XT22</text>
<path d="M714.95 933.85L723.22 922.15 M714.95 922.15L723.22 933.85 M726.66 922.15L733.79 922.15 M730.23 922.15L730.23 933.85 M737.23 924.14L738.96 922.15L741.54 922.15L743.27 923.79L743.27 925.89L737.23 933.85L743.27 933.85 M746.71 922.15L752.75 922.15L749.15 926.71L751.02 926.71L752.75 928.12L752.75 932.33L751.02 933.85L748.43 933.85L746.71 932.21" stroke="#000" stroke-width="1.5" stroke-linecap="square" stroke-linejoin="round"/>
<text x="714.2" y="934.6" font-size="18.1" textLength="39.3" lengthAdjust="spacingAndGlyphs" class="t">XT23</text>
<path d="M714.95 968.05L723.17 955.85 M714.95 955.85L723.17 968.05 M726.58 955.85L733.66 955.85 M730.12 955.85L730.12 968.05 M737.08 957.92L738.79 955.85L741.36 955.85L743.08 957.56L743.08 959.75L737.08 968.05L743.08 968.05 M750.92 955.85L746.49 964.76L753.35 964.76 M751.78 961.22L751.78 968.05" stroke="#000" stroke-width="1.5" stroke-linecap="square" stroke-linejoin="round"/>
<text x="714.2" y="968.8" font-size="18.8" textLength="39.9" lengthAdjust="spacingAndGlyphs" class="t">XT24</text>
<path d="M769.85 776.75L777.49 776.75 M773.67 776.75L773.67 789.55 M781.18 779.69L784.45 776.75L784.45 789.55" stroke="#000" stroke-width="1.5" stroke-linecap="square" stroke-linejoin="round"/>
<text x="769.1" y="790.3" font-size="19.6" textLength="16.1" lengthAdjust="spacingAndGlyphs" class="t">T1</text>
<path d="M767.75 810.75L775.09 810.75 M771.42 810.75L771.42 823.55 M778.63 812.93L780.41 810.75L783.07 810.75L784.85 812.54L784.85 814.85L778.63 823.55L784.85 823.55" stroke="#000" stroke-width="1.5" stroke-linecap="square" stroke-linejoin="round"/>
<text x="767" y="824.3" font-size="19.6" textLength="18.6" lengthAdjust="spacingAndGlyphs" class="t">T2</text>
<path d="M768.45 885.45L775.58 885.45 M772.01 885.45L772.01 897.95 M779.01 885.45L785.05 885.45L781.17 897.95" stroke="#000" stroke-width="1.5" stroke-linecap="square" stroke-linejoin="round"/>
<text x="767.7" y="898.7" font-size="19.2" textLength="18.1" lengthAdjust="spacingAndGlyphs" class="t">T7</text>
<path d="M768.45 919.15L775.58 919.15 M772.01 919.15L772.01 931.35 M784.76 920.61L783.32 919.15L780.88 919.15L779.01 920.98L779.01 929.64L780.88 931.35L783.32 931.35L785.05 929.76L785.05 926.10L783.32 924.52L780.88 924.52L779.01 926.10" stroke="#000" stroke-width="1.5" stroke-linecap="square" stroke-linejoin="round"/>
<text x="767.7" y="932.1" font-size="18.8" textLength="18.1" lengthAdjust="spacingAndGlyphs" class="t">T6</text>
<path d="M768.45 953.45L775.58 953.45 M772.01 953.45L772.01 965.45 M780.74 953.45L779.30 954.77L779.30 957.65L780.74 958.97L783.32 958.97L784.76 957.65L784.76 954.77L783.32 953.45L780.74 953.45 M780.74 958.97L779.01 960.41L779.01 963.89L780.74 965.45L783.32 965.45L785.05 963.89L785.05 960.41L783.32 958.97" stroke="#000" stroke-width="1.5" stroke-linecap="square" stroke-linejoin="round"/>
<text x="767.7" y="966.2" font-size="18.5" textLength="18.1" lengthAdjust="spacingAndGlyphs" class="t">T8</text>
<path d="M176 174 L621 174" stroke="#00ffff" stroke-width="2" stroke-dasharray="35.95 6 6.33 6 40.8 6 6.33 6 40.8 6 6.33 6 40.8 6 6.33 6 40.8 6 6.33 6 40.8 6 6.33 6 40.8 6 6.33 6 36.95 100"/>
<path d="M176 694 L621 694" stroke="#00ffff" stroke-width="2" stroke-dasharray="35.95 6 6.33 6 40.8 6 6.33 6 40.8 6 6.33 6 40.8 6 6.33 6 40.8 6 6.33 6 40.8 6 6.33 6 40.8 6 6.33 6 36.95 100"/>
<path d="M177 173 L177 695" stroke="#00ffff" stroke-width="2" stroke-dasharray="44.88 6 6.33 6 40.8 6 6.33 6 40.8 6 6.33 6 40.8 6 6.33 6 40.8 6 6.33 6 40.8 6 6.33 6 40.8 6 6.33 6 40.8 6 6.33 6 45.88 100"/>
<path d="M620 173 L620 695" stroke="#00ffff" stroke-width="2" stroke-dasharray="44.88 6 6.33 6 40.8 6 6.33 6 40.8 6 6.33 6 40.8 6 6.33 6 40.8 6 6.33 6 40.8 6 6.33 6 40.8 6 6.33 6 40.8 6 6.33 6 45.88 100"/>
</g>
</svg>
</body>
</html>
